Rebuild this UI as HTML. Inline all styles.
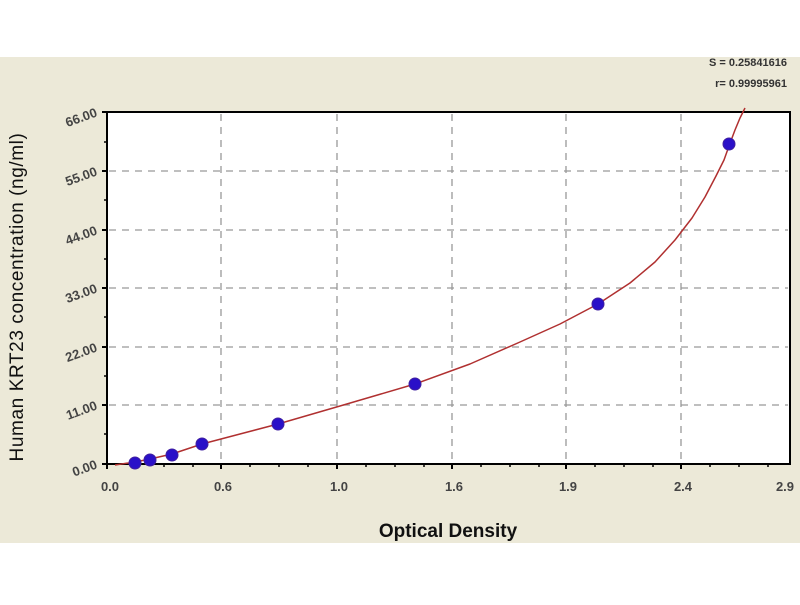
<!DOCTYPE html>
<html><head><meta charset="utf-8"><style>
html,body{margin:0;padding:0;background:#fff;}
</style></head><body>
<svg width="800" height="600" xmlns="http://www.w3.org/2000/svg" font-family="Liberation Sans, sans-serif">
<rect x="0" y="0" width="800" height="600" fill="#fff"/>
<rect x="0" y="57" width="800" height="486" fill="#ece9d8"/>
<rect x="107" y="112" width="683" height="352" fill="#fff"/>
<g stroke="#999" stroke-width="1.3" stroke-dasharray="7,6">
<line x1="221" y1="114" x2="221" y2="462"/><line x1="337" y1="114" x2="337" y2="462"/>
<line x1="452" y1="114" x2="452" y2="462"/><line x1="566" y1="114" x2="566" y2="462"/>
<line x1="681" y1="114" x2="681" y2="462"/>
<line x1="109" y1="405" x2="788" y2="405"/><line x1="109" y1="347" x2="788" y2="347"/>
<line x1="109" y1="288" x2="788" y2="288"/><line x1="109" y1="230" x2="788" y2="230"/>
<line x1="109" y1="171" x2="788" y2="171"/>
</g>
<rect x="107" y="112" width="683" height="352" fill="none" stroke="#000" stroke-width="2"/>
<g stroke="#000" stroke-width="2">
<line x1="102" y1="464" x2="107" y2="464"/><line x1="102" y1="405" x2="107" y2="405"/><line x1="102" y1="347" x2="107" y2="347"/><line x1="102" y1="288" x2="107" y2="288"/><line x1="102" y1="230" x2="107" y2="230"/><line x1="102" y1="171" x2="107" y2="171"/><line x1="102" y1="112" x2="107" y2="112"/>
<line x1="107" y1="464" x2="107" y2="469"/><line x1="221" y1="464" x2="221" y2="469"/><line x1="337" y1="464" x2="337" y2="469"/><line x1="452" y1="464" x2="452" y2="469"/><line x1="566" y1="464" x2="566" y2="469"/><line x1="681" y1="464" x2="681" y2="469"/>
</g>
<g stroke="#000" stroke-width="1.5">
<line x1="104" y1="434" x2="107" y2="434"/><line x1="104" y1="376" x2="107" y2="376"/><line x1="104" y1="317" x2="107" y2="317"/><line x1="104" y1="259" x2="107" y2="259"/><line x1="104" y1="200" x2="107" y2="200"/><line x1="104" y1="142" x2="107" y2="142"/>
<line x1="135" y1="464" x2="135" y2="467"/><line x1="164" y1="464" x2="164" y2="467"/><line x1="193" y1="464" x2="193" y2="467"/><line x1="250" y1="464" x2="250" y2="467"/><line x1="279" y1="464" x2="279" y2="467"/><line x1="308" y1="464" x2="308" y2="467"/><line x1="366" y1="464" x2="366" y2="467"/><line x1="395" y1="464" x2="395" y2="467"/><line x1="424" y1="464" x2="424" y2="467"/><line x1="481" y1="464" x2="481" y2="467"/><line x1="510" y1="464" x2="510" y2="467"/><line x1="539" y1="464" x2="539" y2="467"/><line x1="595" y1="464" x2="595" y2="467"/><line x1="624" y1="464" x2="624" y2="467"/><line x1="653" y1="464" x2="653" y2="467"/><line x1="710" y1="464" x2="710" y2="467"/><line x1="739" y1="464" x2="739" y2="467"/><line x1="768" y1="464" x2="768" y2="467"/>
</g>
<polyline points="115,465 135,462 150,459 172,454 202,444 240,434 278,424 340,406 415,384 470,364 520,342 560,324 598,304 630,283 655,262 675,240 692,218 705,197 716,176 724,160 729,146 735,130 740,118 745,108" fill="none" stroke="#b03030" stroke-width="1.5" stroke-linejoin="round"/>
<g fill="#2a10c8" stroke="#4020a0" stroke-width="1">
<circle cx="135" cy="463" r="6"/><circle cx="150" cy="460" r="6"/><circle cx="172" cy="455" r="6"/><circle cx="202" cy="444" r="6"/><circle cx="278" cy="424" r="6"/><circle cx="415" cy="384" r="6"/><circle cx="598" cy="304" r="6"/><circle cx="729" cy="144" r="6"/>
</g>
<g font-size="13" font-weight="bold" fill="#444" text-anchor="end">
<text transform="translate(98,468) rotate(-20)">0.00</text>
<text transform="translate(98,409) rotate(-20)">11.00</text>
<text transform="translate(98,351) rotate(-20)">22.00</text>
<text transform="translate(98,292) rotate(-20)">33.00</text>
<text transform="translate(98,234) rotate(-20)">44.00</text>
<text transform="translate(98,175) rotate(-20)">55.00</text>
<text transform="translate(98,116) rotate(-20)">66.00</text>
</g>
<g font-size="13" font-weight="bold" fill="#444" text-anchor="middle">
<text x="110" y="491">0.0</text><text x="223" y="491">0.6</text><text x="339" y="491">1.0</text><text x="454" y="491">1.6</text><text x="568" y="491">1.9</text><text x="683" y="491">2.4</text><text x="785" y="491">2.9</text>
</g>
<text x="448" y="537" font-size="19" font-weight="bold" fill="#111" text-anchor="middle">Optical Density</text>
<text transform="translate(23,297) rotate(-90)" font-size="19" fill="#111" text-anchor="middle" letter-spacing="0.6">Human  KRT23 concentration (ng/ml)</text>
<text x="787" y="66" font-size="11" font-weight="bold" fill="#333" text-anchor="end">S = 0.25841616</text>
<text x="787" y="87" font-size="11" font-weight="bold" fill="#333" text-anchor="end">r= 0.99995961</text>
</svg>
</body></html>
